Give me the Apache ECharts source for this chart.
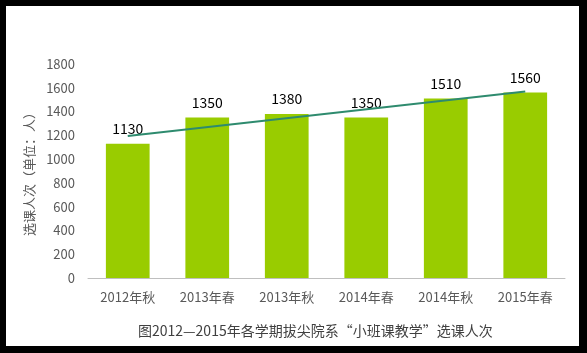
<!DOCTYPE html>
<html>
<head>
<meta charset="utf-8">
<script src="https://cdn.jsdelivr.net/npm/echarts@6/dist/echarts.min.js"></script>
<style>
  html, body { margin: 0; padding: 0; background: #000; }
  #main { position: absolute; left: 6px; top: 6px; width: 573px; height: 340px; background: #fff; }
</style>
</head>
<body>
<div id="main"></div>
<script>
var categories = ['2012年秋', '2013年春', '2013年秋', '2014年春', '2014年秋', '2015年春'];
var counts = [1130, 1350, 1380, 1350, 1510, 1560];
// 趋势线，读图估计首尾两点
var trend = [1195, null, null, null, null, 1568];
var yTicks = { min: 0, max: 1800, interval: 200 };

var chart = echarts.init(document.getElementById('main'));
var fontFamily = '"Noto Sans CJK SC", "DejaVu Sans", sans-serif';
var option = {
  animation: false,
  textStyle: { fontFamily: fontFamily },
  title: {
    text: '图2012—2015年各学期拔尖院系“小班课教学”选课人次',
    left: 127,
    top: 313,
    textStyle: { fontSize: 14, fontWeight: 'normal', color: '#404040', fontFamily: fontFamily }
  },
  grid: { left: 82, right: 14, top: 58, bottom: 68 },
  xAxis: {
    type: 'category',
    data: categories,
    axisTick: { show: false },
    axisLine: { lineStyle: { color: '#bfbfbf', width: 1 } },
    axisLabel: { color: '#595959', fontSize: 13, margin: 13 }
  },
  yAxis: {
    type: 'value',
    min: yTicks.min,
    max: yTicks.max,
    interval: yTicks.interval,
    name: '选课人次（单位：人）',
    nameLocation: 'middle',
    nameRotate: 90,
    nameGap: 50,
    nameTextStyle: { color: '#595959', fontSize: 13 },
    splitLine: { show: false },
    axisLine: { show: false },
    axisTick: { show: false },
    axisLabel: { color: '#595959', fontSize: 13, margin: 13, formatter: function (v) { return String(v); } }
  },
  series: [{
    type: 'bar',
    data: counts,
    barWidth: '55%',
    itemStyle: { color: '#99cc00' },
    label: { show: true, position: 'top', distance: 8, color: '#000', fontSize: 14 }
  }, {
    type: 'line',
    data: trend,
    connectNulls: true,
    symbol: 'none',
    z: 3,
    lineStyle: { color: '#2e8b6e', width: 2 }
  }]
};
chart.setOption(option);
</script>
</body>
</html>
